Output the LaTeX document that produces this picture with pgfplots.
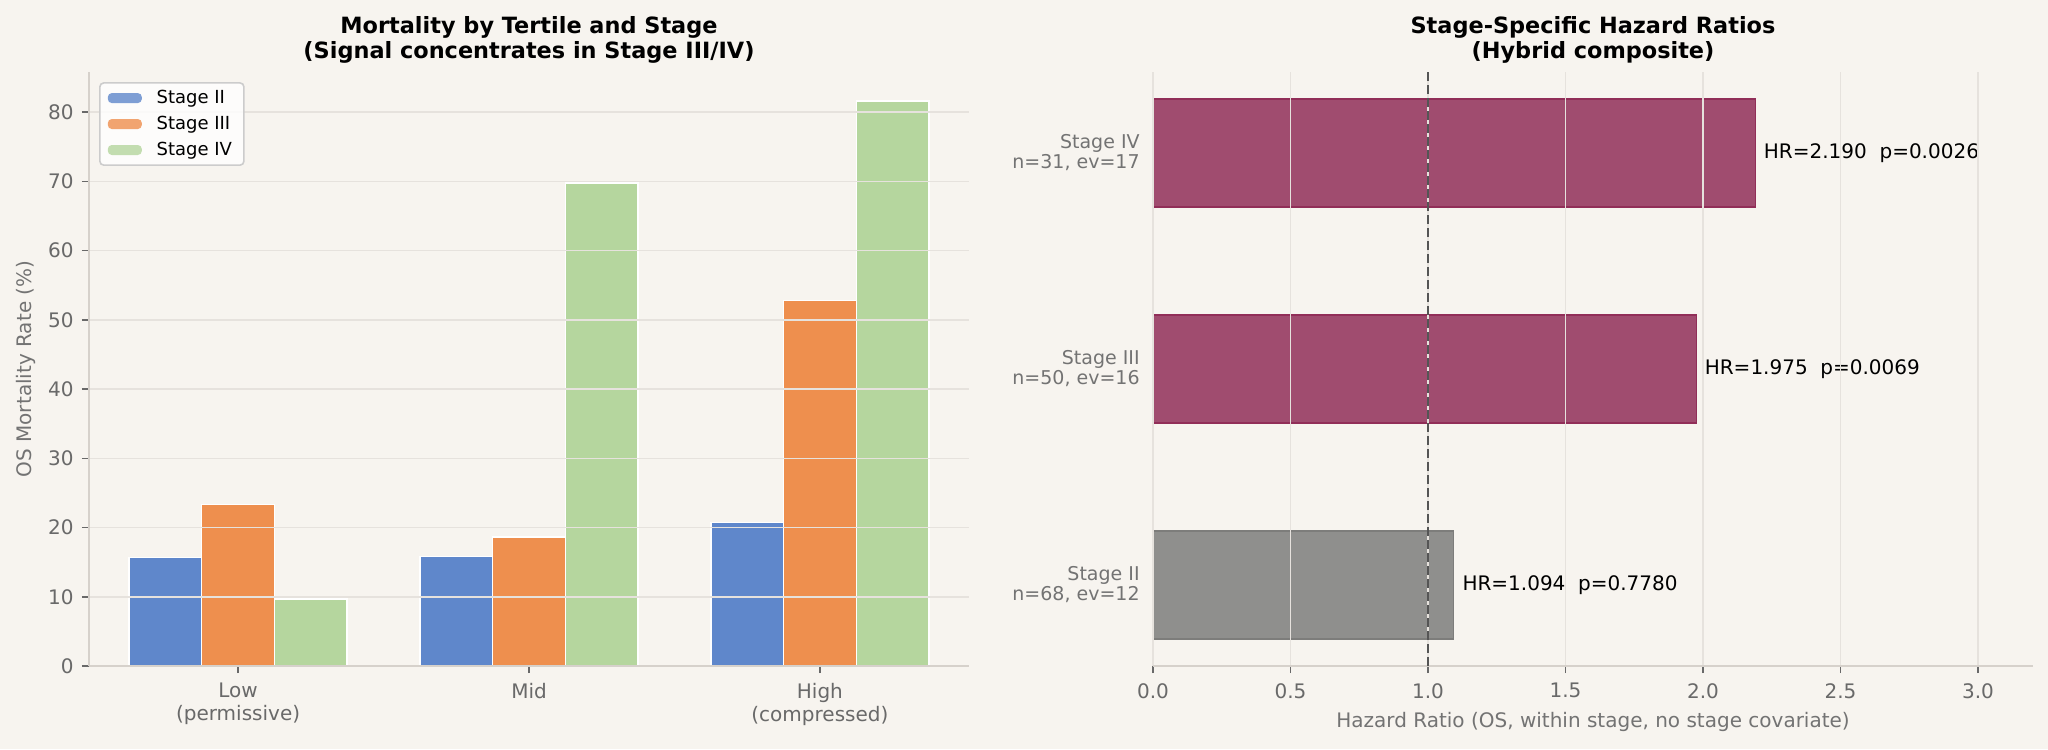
\documentclass[border=0pt]{standalone}
\usepackage{pgfplots}
\pgfplotsset{compat=1.18}
\usepackage{fontspec}
\setmainfont{DejaVu Sans}
\definecolor{bg}{RGB}{247,244,239}
\definecolor{cblue}{RGB}{95,135,203}
\definecolor{corange}{RGB}{238,143,78}
\definecolor{cgreen}{RGB}{181,214,158}
\definecolor{cpurple}{RGB}{160,76,111}
\definecolor{cpurpleedge}{RGB}{145,46,88}
\definecolor{cgray}{RGB}{143,143,141}
\definecolor{cgrayedge}{RGB}{125,125,123}
\definecolor{gridc}{RGB}{230,226,221}
\definecolor{spinec}{RGB}{214,209,203}
\definecolor{tickc}{RGB}{105,105,105}
\definecolor{labelc}{RGB}{115,115,115}
\pgfplotsset{
  common/.style={
    scale only axis, width=440pt, height=297pt,
    axis background/.style={fill=bg},
    set layers=axis on top,
    axis lines*=left,
    axis line style={draw=spinec, line width=1pt},
    tick align=outside,
    major tick length=3.5pt,
    tick style={draw=tickc, line width=0.8pt},
    ticklabel style={font=\fontsize{10}{11.5}\selectfont, text=tickc, inner sep=0pt},
    label style={font=\fontsize{10}{11.5}\selectfont, text=labelc},
    title style={font=\fontsize{11.2}{12.5}\selectfont\bfseries, align=center, anchor=south, yshift=-2pt, inner sep=0pt},
    /pgf/number format/assume math mode=true,
    major grid style={draw=gridc, line width=0.75pt},
  }
}
\begin{document}
\begin{tikzpicture}
\path[fill=bg] (0,0) rectangle (1024pt,374.5pt);
% Left chart
\begin{axis}[common,
  at={(44.5pt,41.5pt)}, anchor=south west,
  title={Mortality by Tertile and Stage\\(Signal concentrates in Stage III/IV)},
  xmin=-0.5125, xmax=2.5125, ymin=0, ymax=85.8,
  xtick={0,1,2},
  xticklabels={{Low\\(permissive)},{Mid},{High\\(compressed)}},
  xticklabel style={align=center, yshift=-5pt},
  ytick={0,10,...,80},
  yticklabel style={xshift=-4pt},
  ymajorgrids,
  ylabel={OS Mortality Rate (\%)},
  ylabel style={at={(axis description cs:-0.0716,0.5)}, anchor=center},
  bar width=0.25,
  legend style={at={(0.0114,0.983)}, anchor=north west, draw={rgb,255:red,204;green,204;blue,204}, line width=0.8pt, rounded corners=2pt, fill=white, fill opacity=0.8, text opacity=1, font=\fontsize{9}{10.5}\selectfont, inner xsep=4pt, inner ysep=1.5pt, row sep=0.8pt},
  legend cell align=left,
  legend image code/.code={\fill[#1, draw=none] (0pt,-2.5pt) rectangle (17pt,2.5pt); \path (22pt,0pt);},
]
\addplot[ybar, bar shift=-0.25, fill=cblue, draw=white, line width=0.75pt] coordinates {(0,15.7) (1,15.8) (2,20.7)};
\addlegendentry{Stage II}
\addplot[ybar, bar shift=0, fill=corange, draw=white, line width=0.75pt] coordinates {(0,23.3) (1,18.6) (2,52.8)};
\addlegendentry{Stage III}
\addplot[ybar, bar shift=0.25, fill=cgreen, draw=white, line width=0.75pt] coordinates {(0,9.7) (1,69.8) (2,81.6)};
\addlegendentry{Stage IV}
\end{axis}
% Right chart
\begin{axis}[common,
  at={(576.5pt,41.5pt)}, anchor=south west,
  title={Stage-Specific Hazard Ratios\\(Hybrid composite)},
  xmin=0, xmax=3.2, ymin=-0.375, ymax=2.375,
  xtick={0,0.5,...,3.0},
  xticklabel style={yshift=-5pt, /pgf/number format/.cd, fixed, fixed zerofill, precision=1},
  xmajorgrids,
  ytick={0,1,2},
  yticklabels={{Stage II\\n=68, ev=12},{Stage III\\n=50, ev=16},{Stage IV\\n=31, ev=17}},
  yticklabel style={align=right, font=\fontsize{9.5}{10}\selectfont, text=labelc, xshift=-3pt},
  ytick style={draw=none},
  y axis line style={draw=none},
  xlabel={Hazard Ratio (OS, within stage, no stage covariate)},
  xlabel style={at={(axis description cs:0.5,0)}, anchor=base, yshift=-30.5pt},
  bar width=0.5,
]
\addplot[xbar, bar shift=0, fill=cgray, draw=cgrayedge, line width=0.6pt] coordinates {(1.094,0)};
\addplot[xbar, bar shift=0, fill=cpurple, draw=cpurpleedge, line width=0.6pt] coordinates {(1.975,1) (2.190,2)};
\addplot[on layer=axis foreground, draw={rgb,255:red,85;green,85;blue,85}, line width=1pt, dash pattern=on 4.5pt off 2pt] coordinates {(1,-0.375) (1,2.375)};
\addplot[on layer=axis foreground, draw=none, mark=none, point meta=explicit symbolic,
  nodes near coords, nodes near coords style={anchor=west, font=\fontsize{10}{11}\selectfont, text=black, inner sep=0pt}]
  coordinates {(1.124,0) [HR=1.094\ \ p=0.7780] (2.005,1) [HR=1.975\ \ p=0.0069] (2.220,2) [HR=2.190\ \ p=0.0026]};
\end{axis}
\end{tikzpicture}
\end{document}
